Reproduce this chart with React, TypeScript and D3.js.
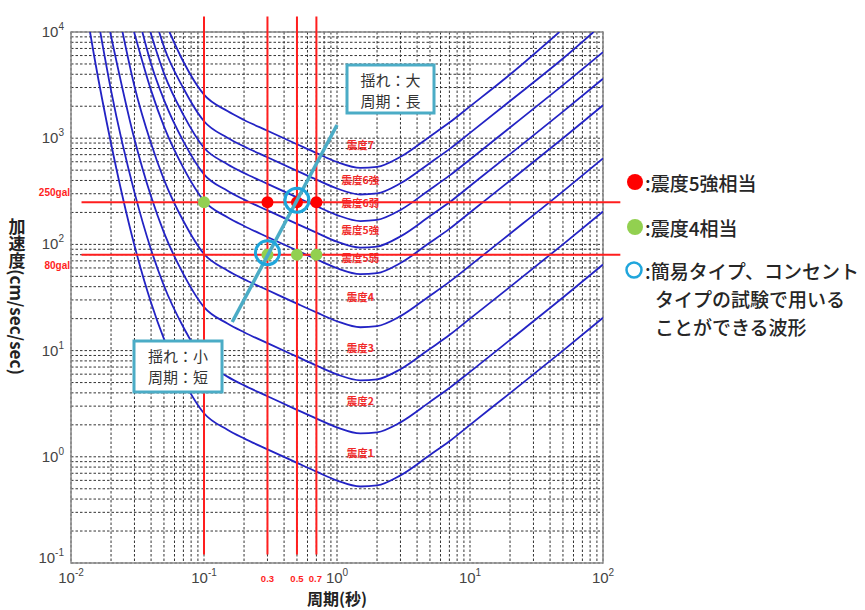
import { useEffect, useRef } from "react";
import { select, scaleLog, line, curveMonotoneX } from "d3";

const periodTicks = [0.01, 0.1, 1, 10, 100];
const periodTickExp = ["-2", "-1", "0", "1", "2"];
const accelTicks = [0.1, 1, 10, 100, 1000, 10000];
const accelTickExp = ["-1", "0", "1", "2", "3", "4"];

// 震度の境界曲線 [周期(秒), 加速度(gal)]
const shindo1 = [[0.0139, 10000], [0.015, 5750], [0.02, 891], [0.03, 97.7], [0.04, 28.2], [0.05, 12.9], [0.07, 5.25], [0.1, 2.57], [0.15, 1.8], [0.2, 1.49], [0.3, 1.175], [0.5, 0.877], [0.7, 0.724], [1, 0.597], [1.5, 0.525], [2, 0.537], [3, 0.668], [5, 1.04], [7, 1.4], [10, 2.0], [20, 3.98], [50, 10], [100, 20.4]];
const shindo2 = [[0.0166, 10000], [0.02, 2817], [0.03, 309], [0.04, 89.2], [0.05, 40.8], [0.07, 16.6], [0.1, 8.13], [0.15, 5.69], [0.2, 4.7], [0.3, 3.72], [0.5, 2.77], [0.7, 2.29], [1, 1.89], [1.5, 1.66], [2, 1.7], [3, 2.11], [5, 3.29], [7, 4.44], [10, 6.31], [20, 12.6], [50, 31.6], [100, 64.6]];
const shindo3 = [[0.0197, 10000], [0.03, 977], [0.04, 282], [0.05, 129], [0.07, 52.5], [0.1, 25.7], [0.15, 18.0], [0.2, 14.9], [0.3, 11.75], [0.5, 8.77], [0.7, 7.24], [1, 5.97], [1.5, 5.25], [2, 5.37], [3, 6.68], [5, 10.4], [7, 14.0], [10, 20.0], [20, 39.8], [50, 100], [100, 204]];
const shindo4 = [[0.0244, 10000], [0.03, 3089], [0.04, 892], [0.05, 408], [0.07, 166], [0.1, 81.3], [0.15, 56.9], [0.2, 47.0], [0.3, 37.2], [0.5, 27.7], [0.7, 22.9], [1, 18.9], [1.5, 16.6], [2, 17.0], [3, 21.1], [5, 32.9], [7, 44.4], [10, 63.1], [20, 126], [50, 316], [100, 646]];
const shindo5Lower = [[0.0298, 10000], [0.04, 2820], [0.05, 1290], [0.07, 525], [0.1, 257], [0.15, 180], [0.2, 149], [0.3, 117.5], [0.5, 87.7], [0.7, 72.4], [1, 59.7], [1.5, 52.5], [2, 53.7], [3, 66.8], [5, 104], [7, 140], [10, 200], [20, 398], [50, 1000], [100, 2040]];
const shindo5Upper = [[0.0344, 10000], [0.04, 5014], [0.05, 2294], [0.07, 933], [0.1, 457], [0.15, 320], [0.2, 264], [0.3, 209], [0.5, 156], [0.7, 129], [1, 106], [1.5, 93.3], [2, 95.5], [3, 119], [5, 185], [7, 249], [10, 355], [20, 708], [50, 1778], [100, 3631]];
const shindo6Lower = [[0.0395, 10000], [0.05, 4079], [0.07, 1659], [0.1, 813], [0.15, 569], [0.2, 470], [0.3, 372], [0.5, 277], [0.7, 229], [1, 189], [1.5, 166], [2, 170], [3, 211], [5, 329], [7, 444], [10, 631], [20, 1259], [50, 3162], [100, 6457]];
const shindo6Upper = [[0.046, 10000], [0.05, 7254], [0.07, 2951], [0.1, 1445], [0.15, 1012], [0.2, 836], [0.3, 661], [0.5, 493], [0.7, 407], [1, 336], [1.5, 295], [2, 302], [3, 376], [5, 585], [7, 789], [10, 1122], [20, 2239], [50, 5623], [85, 10000]];
const shindo7 = [[0.055, 10000], [0.07, 5248], [0.1, 2570], [0.15, 1800], [0.2, 1486], [0.3, 1175], [0.5, 877], [0.7, 724], [1, 597], [1.5, 525], [2, 537], [3, 668], [5, 1040], [7, 1403], [10, 1995], [20, 3981], [47, 10000]];

const curves = [shindo1, shindo2, shindo3, shindo4, shindo5Lower, shindo5Upper, shindo6Lower, shindo6Upper, shindo7];

const bandNames = ["震度1", "震度2", "震度3", "震度4", "震度5弱", "震度5強", "震度6弱", "震度6強", "震度7"];
const bandLabelAccel = [1.09, 3.3, 10.6, 32, 74, 137, 245, 400, 860];
const bandLabelPeriod = 1.5;

const testPeriods = [0.1, 0.3, 0.5, 0.7];
const testPeriodLabels = ["", "0.3", "0.5", "0.7"];
const testAccels = [250, 80];
const testAccelLabels = ["250gal", "80gal"];

const redPoints = [[0.3, 250], [0.5, 250], [0.7, 250]];
const greenPoints = [[0.1, 250], [0.3, 80], [0.5, 80], [0.7, 80]];
const ringPoints = [[0.5, 250], [0.3, 80]];
const trendLine = [[0.163, 18.6], [1.0, 1330]];

const legendRed = ":震度5強相当";
const legendGreen = ":震度4相当";
const legendRing = [":簡易タイプ、コンセント", "タイプの試験で用いる", "ことができる波形"];

const calloutLong = ["揺れ：大", "周期：長"];
const calloutShort = ["揺れ：小", "周期：短"];

const JP = "'Noto Sans CJK JP', 'Noto Sans', sans-serif";
const LATIN = "'Liberation Sans', Arial, sans-serif";

export default function App() {
  const svgRef = useRef<SVGSVGElement | null>(null);

  useEffect(() => {
    if (!svgRef.current) return;
    const svg = select(svgRef.current);
    svg.selectAll("*").remove();

    const left = 71, right = 603, top = 32, bottom = 563;
    const x = scaleLog().domain([0.01, 100]).range([left, right]);
    const y = scaleLog().domain([0.1, 10000]).range([bottom, top]);

    svg.append("rect").attr("width", 865).attr("height", 610).attr("fill", "#fff");

    svg
      .append("defs")
      .append("clipPath")
      .attr("id", "plot-clip")
      .append("rect")
      .attr("x", left)
      .attr("y", top)
      .attr("width", right - left)
      .attr("height", bottom - top);

    // grid
    const grid = svg.append("g");
    grid
      .selectAll("line.vx")
      .data(x.ticks())
      .enter()
      .append("line")
      .attr("x1", (d) => x(d))
      .attr("x2", (d) => x(d))
      .attr("y1", top)
      .attr("y2", bottom)
      .attr("stroke", "#333")
      .attr("stroke-width", 1)
      .attr("stroke-dasharray", "2.5,2");
    grid
      .selectAll("line.hy")
      .data(y.ticks())
      .enter()
      .append("line")
      .attr("y1", (d) => y(d))
      .attr("y2", (d) => y(d))
      .attr("x1", left)
      .attr("x2", right)
      .attr("stroke", "#333")
      .attr("stroke-width", 1)
      .attr("stroke-dasharray", "2.5,2");

    svg
      .append("rect")
      .attr("x", left)
      .attr("y", top)
      .attr("width", right - left)
      .attr("height", bottom - top)
      .attr("fill", "none")
      .attr("stroke", "#8a8a8a")
      .attr("stroke-width", 1.5);

    // tick labels
    periodTicks.forEach((t, i) => {
      const txt = svg
        .append("text")
        .attr("x", x(t))
        .attr("y", bottom + 20)
        .attr("text-anchor", "middle")
        .attr("font-family", LATIN)
        .attr("font-size", 15)
        .attr("fill", "#444");
      txt.append("tspan").text("10");
      txt.append("tspan").attr("dy", -7).attr("font-size", 10).text(periodTickExp[i]);
    });
    accelTicks.forEach((a, i) => {
      const txt = svg
        .append("text")
        .attr("x", left - 7)
        .attr("y", y(a) + (i === 0 ? 0 : 5))
        .attr("text-anchor", "end")
        .attr("font-family", LATIN)
        .attr("font-size", 15)
        .attr("fill", "#444");
      txt.append("tspan").text("10");
      txt.append("tspan").attr("dy", -7).attr("font-size", 10).text(accelTickExp[i]);
    });

    // axis titles
    svg
      .append("text")
      .attr("x", x(1))
      .attr("y", 605)
      .attr("text-anchor", "middle")
      .attr("font-family", JP)
      .attr("font-size", 16)
      .attr("font-weight", "bold")
      .attr("fill", "#222")
      .text("周期(秒)");
    svg
      .append("text")
      .attr("x", 17)
      .attr("y", 218)
      .style("writing-mode", "vertical-rl")
      .attr("font-family", JP)
      .attr("font-size", 17)
      .attr("font-weight", "bold")
      .attr("fill", "#222")
      .text("加速度(cm/sec/sec)");

    // intensity curves
    const curveLine = line<number[]>()
      .x((d) => x(d[0]))
      .y((d) => y(d[1]))
      .curve(curveMonotoneX);
    svg
      .append("g")
      .attr("clip-path", "url(#plot-clip)")
      .selectAll("path")
      .data(curves)
      .enter()
      .append("path")
      .attr("d", (d) => curveLine(d))
      .attr("fill", "none")
      .attr("stroke", "#2323c4")
      .attr("stroke-width", 1.8);

    bandNames.forEach((name, i) => {
      svg
        .append("text")
        .attr("x", x(bandLabelPeriod))
        .attr("y", y(bandLabelAccel[i]))
        .attr("dy", "0.35em")
        .attr("text-anchor", "middle")
        .attr("font-family", JP)
        .attr("font-size", 10.5)
        .attr("font-weight", "bold")
        .attr("fill", "#f02a2a")
        .text(name);
    });

    // test lines
    testPeriods.forEach((t, i) => {
      svg
        .append("line")
        .attr("x1", x(t))
        .attr("x2", x(t))
        .attr("y1", y(14000))
        .attr("y2", y(0.12))
        .attr("stroke", "#ff1e1e")
        .attr("stroke-width", 2);
      if (testPeriodLabels[i])
        svg
          .append("text")
          .attr("x", x(t) - (i === 3 ? 1 : 0))
          .attr("y", bottom + 19)
          .attr("text-anchor", "middle")
          .attr("font-family", LATIN)
          .attr("font-size", 9.5)
          .attr("font-weight", "bold")
          .attr("fill", "#ff1e1e")
          .text(testPeriodLabels[i]);
    });
    testAccels.forEach((a, i) => {
      svg
        .append("line")
        .attr("x1", x(0.012))
        .attr("x2", x(135))
        .attr("y1", y(a))
        .attr("y2", y(a))
        .attr("stroke", "#ff1e1e")
        .attr("stroke-width", 2);
      svg
        .append("text")
        .attr("x", left - 1)
        .attr("y", y(a) + (i === 0 ? -6 : 14))
        .attr("text-anchor", "end")
        .attr("font-family", LATIN)
        .attr("font-size", 10)
        .attr("font-weight", "bold")
        .attr("fill", "#ff1e1e")
        .text(testAccelLabels[i]);
    });

    // points
    svg
      .selectAll("circle.red")
      .data(redPoints)
      .enter()
      .append("circle")
      .attr("class", "red")
      .attr("cx", (d) => x(d[0]))
      .attr("cy", (d) => y(d[1]))
      .attr("r", 6)
      .attr("fill", "#ff0000");
    svg
      .selectAll("circle.green")
      .data(greenPoints)
      .enter()
      .append("circle")
      .attr("class", "green")
      .attr("cx", (d) => x(d[0]))
      .attr("cy", (d) => y(d[1]))
      .attr("r", 6)
      .attr("fill", "#92d050");

    svg
      .append("path")
      .attr("d", line<number[]>().x((d) => x(d[0])).y((d) => y(d[1]))(trendLine))
      .attr("stroke", "#4bacc6")
      .attr("stroke-width", 3.5)
      .attr("fill", "none");

    svg
      .selectAll("circle.ring")
      .data(ringPoints)
      .enter()
      .append("circle")
      .attr("class", "ring")
      .attr("cx", (d) => x(d[0]))
      .attr("cy", (d) => y(d[1]) - 2)
      .attr("r", 12)
      .attr("fill", "none")
      .attr("stroke", "#20a6dc")
      .attr("stroke-width", 3);

    // callouts
    const callout = (bx: number, by: number, w: number, h: number, lines: string[]) => {
      svg
        .append("rect")
        .attr("x", bx)
        .attr("y", by)
        .attr("width", w)
        .attr("height", h)
        .attr("fill", "#fff")
        .attr("stroke", "#4bacc6")
        .attr("stroke-width", 3);
      lines.forEach((l, i) => {
        svg
          .append("text")
          .attr("x", bx + w / 2)
          .attr("y", by + 14 + i * 21)
          .attr("dominant-baseline", "central")
          .attr("text-anchor", "middle")
          .attr("font-family", JP)
          .attr("font-size", 15)
          .attr("fill", "#333")
          .text(l);
      });
    };
    callout(347, 65, 87, 48, calloutLong);
    callout(134, 341, 88, 51, calloutShort);

    // legend
    const legendText = (lx: number, ly: number, s: string) =>
      svg
        .append("text")
        .attr("x", lx)
        .attr("y", ly)
        .attr("dominant-baseline", "central")
        .attr("font-family", JP)
        .attr("font-size", 19)
        .attr("font-weight", 500)
        .attr("fill", "#262626")
        .text(s);
    svg.append("circle").attr("cx", 635).attr("cy", 182).attr("r", 8).attr("fill", "#ff0000");
    legendText(645, 182, legendRed);
    svg.append("circle").attr("cx", 635).attr("cy", 227).attr("r", 8).attr("fill", "#92d050");
    legendText(645, 227, legendGreen);
    svg
      .append("circle")
      .attr("cx", 634)
      .attr("cy", 270)
      .attr("r", 7.5)
      .attr("fill", "none")
      .attr("stroke", "#20a6dc")
      .attr("stroke-width", 2.5);
    legendRing.forEach((s, i) => legendText(i === 0 ? 645 : 655, 270 + i * 28, s));
  }, []);

  return (
    <svg
      ref={svgRef}
      width={865}
      height={610}
      style={{ position: "absolute", left: 0, top: 0 }}
    />
  );
}
